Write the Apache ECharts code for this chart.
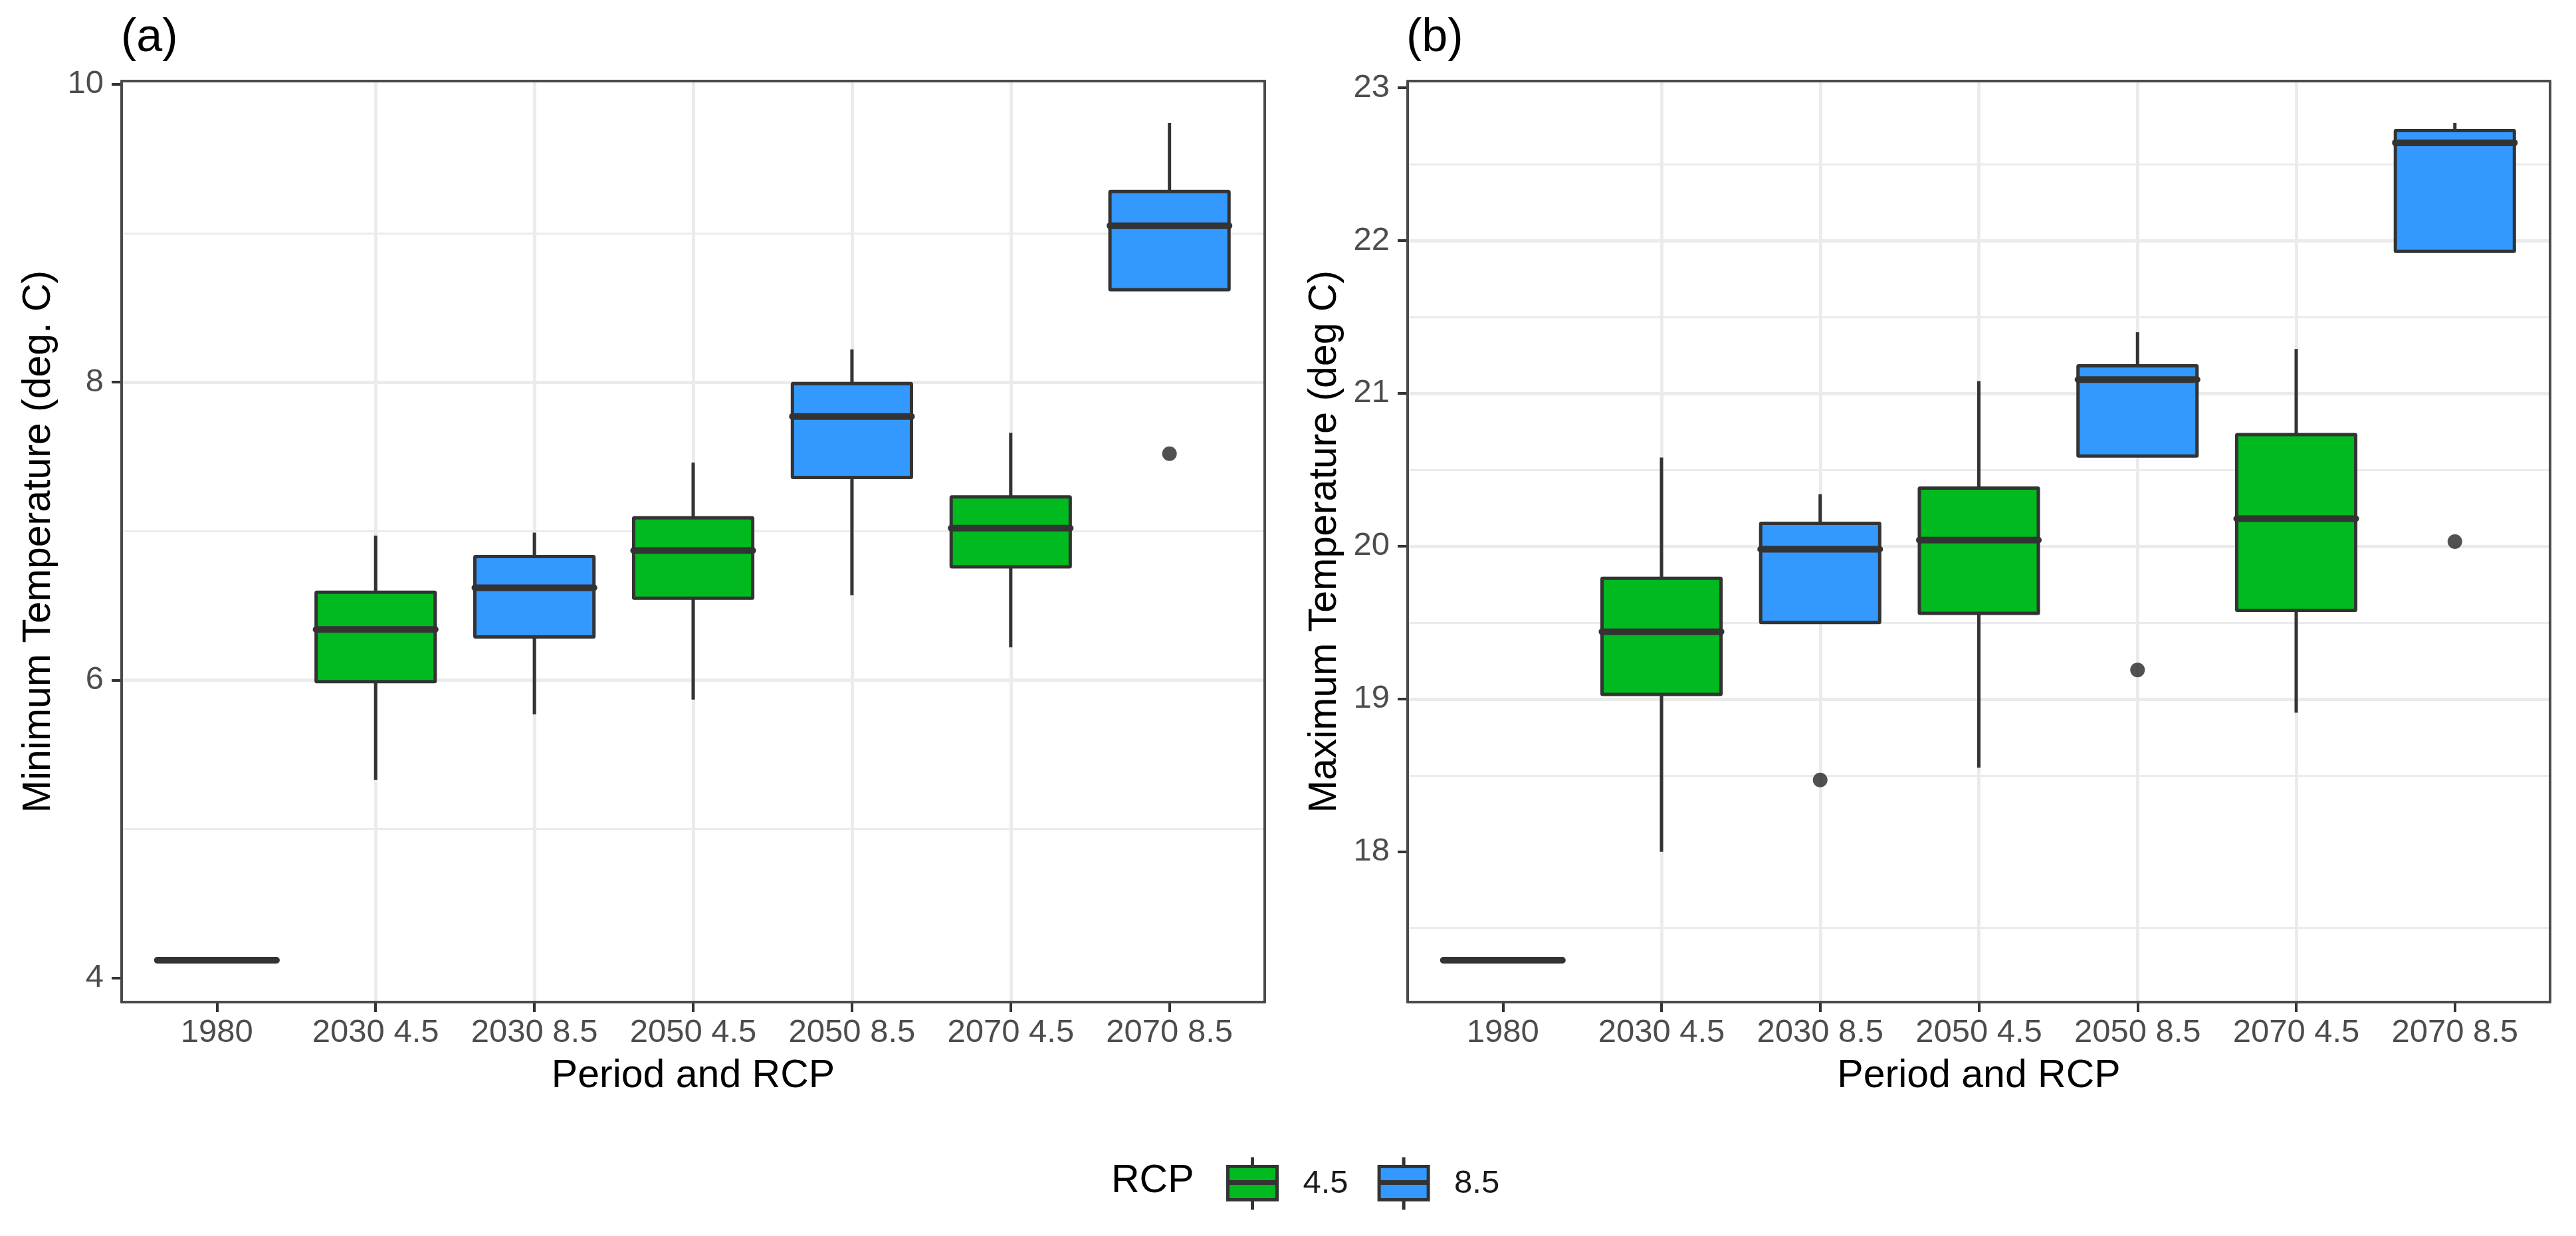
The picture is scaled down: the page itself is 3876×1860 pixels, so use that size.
<!DOCTYPE html>
<html>
<head>
<meta charset="utf-8">
<script src="https://cdn.jsdelivr.net/npm/echarts@6/dist/echarts.min.js"></script>
<style>
html,body{margin:0;padding:0;background:#fff;}
#chart{width:3876px;height:1860px;}
</style>
</head>
<body>
<div id="chart"></div>
<script>
// ---------- DATA ----------
const categories = ['1980', '2030 4.5', '2030 8.5', '2050 4.5', '2050 8.5', '2070 4.5', '2070 8.5'];
const rcpGroup   = ['1980', '4.5', '8.5', '4.5', '8.5', '4.5', '8.5'];

// (a) Minimum temperature: lower whisker, Q1, median, Q3, upper whisker
const tminLo  = [4.12, 5.33, 5.77, 5.87, 6.57, 6.22, 8.62];
const tminQ1  = [4.12, 5.99, 6.29, 6.55, 7.36, 6.76, 8.62];
const tminMed = [4.12, 6.34, 6.62, 6.87, 7.77, 7.02, 9.05];
const tminQ3  = [4.12, 6.59, 6.83, 7.09, 7.99, 7.23, 9.28];
const tminHi  = [4.12, 6.97, 6.99, 7.46, 8.22, 7.66, 9.74];
const tminOutlierCat = ['2070 8.5'];
const tminOutlierVal = [7.52];
const tminTicks = [4, 6, 8, 10];

// (b) Maximum temperature
const tmaxLo  = [17.29, 18.00, 19.50, 18.55, 20.59, 18.91, 21.93];
const tmaxQ1  = [17.29, 19.03, 19.50, 19.56, 20.59, 19.58, 21.93];
const tmaxMed = [17.29, 19.44, 19.98, 20.04, 21.09, 20.18, 22.64];
const tmaxQ3  = [17.29, 19.79, 20.15, 20.38, 21.18, 20.73, 22.72];
const tmaxHi  = [17.29, 20.58, 20.34, 21.08, 21.40, 21.29, 22.77];
const tmaxOutlierCat = ['2030 8.5', '2050 8.5', '2070 8.5'];
const tmaxOutlierVal = [18.47, 19.19, 20.03];
const tmaxTicks = [18, 19, 20, 21, 22, 23];

const legendGroups = ['4.5', '8.5'];

// ---------- STYLE ----------
const FONT = '"Liberation Sans", Arial, sans-serif';
const COLORS = { '1980': '#7f7f7f', '4.5': '#00BA1F', '8.5': '#3399FF' };
const EDGE = '#333333';
const GRIDC = '#EBEBEB';
const BOX_WIDTH = 0.75;
const FRAME = '#4a4a4a';
const LW = 5;

const chart = echarts.init(document.getElementById('chart'), null, { renderer: 'canvas', width: 3876, height: 1860 });

function renderBox(params, api) {
  const x = api.value(0);
  const lo = api.value(1), q1 = api.value(2), med = api.value(3), q3 = api.value(4), hi = api.value(5);
  const half = api.size([BOX_WIDTH, 0])[0] / 2;
  const pHi = api.coord([x, hi]), pQ3 = api.coord([x, q3]), pMed = api.coord([x, med]);
  const pQ1 = api.coord([x, q1]), pLo = api.coord([x, lo]);
  const fill = api.visual('color');
  const children = [];
  if (pHi[1] < pQ3[1]) children.push({ type: 'line', shape: { x1: pHi[0], y1: pHi[1], x2: pQ3[0], y2: pQ3[1] }, style: { stroke: EDGE, lineWidth: LW } });
  if (pLo[1] > pQ1[1]) children.push({ type: 'line', shape: { x1: pLo[0], y1: pLo[1], x2: pQ1[0], y2: pQ1[1] }, style: { stroke: EDGE, lineWidth: LW } });
  children.push({ type: 'rect', shape: { x: pQ3[0] - half, y: pQ3[1], width: 2 * half, height: pQ1[1] - pQ3[1], r: 1 },
                  style: { fill: fill, stroke: EDGE, lineWidth: LW } });
  children.push({ type: 'line', shape: { x1: pMed[0] - half, y1: pMed[1], x2: pMed[0] + half, y2: pMed[1] },
                  style: { stroke: EDGE, lineWidth: 10, lineCap: 'round' } });
  return { type: 'group', children: children };
}

function dataRange(arrs) {
  let lo = Infinity, hi = -Infinity;
  arrs.forEach(a => a.forEach(v => { lo = Math.min(lo, v); hi = Math.max(hi, v); }));
  const pad = (hi - lo) * 0.05;
  return [lo - pad, hi + pad];
}

const grids = [], xAxes = [], yAxes = [], series = [];

function frameAxis(p, pos) {
  return { gridIndex: p, type: 'value', position: pos, min: 0, max: 1, z: 10,
    axisLine: { show: true, onZero: false, lineStyle: { color: FRAME, width: 4 } },
    axisTick: { show: false }, axisLabel: { show: false }, splitLine: { show: false } };
}

function addPanel(p, rect, yName, lo, q1, med, q3, hi, outCat, outVal, ticks, majorStep) {
  grids.push(Object.assign({ show: false }, rect));
  const yr = dataRange([lo, hi, outVal]);
  const xMin = -0.6, xMax = categories.length - 1 + 0.6;
  const idxs = categories.map((c, i) => i);
  xAxes.push({
    gridIndex: p, type: 'value', position: 'bottom', min: xMin, max: xMax,
    splitNumber: categories.length, minInterval: 1, maxInterval: 1,
    name: 'Period and RCP', nameLocation: 'middle', nameGap: 82,
    nameTextStyle: { fontSize: 59, color: '#000', fontFamily: FONT },
    axisLine: { show: false, onZero: false },
    axisTick: { show: true, length: 15, customValues: idxs, lineStyle: { color: EDGE, width: 4 } },
    axisLabel: { show: true, customValues: idxs, margin: 22, fontSize: 49, color: '#4D4D4D', fontFamily: FONT,
                 formatter: v => (Number.isInteger(v) && categories[v] !== undefined) ? categories[v] : '' },
    splitLine: { show: true, showMinLine: false, showMaxLine: false, lineStyle: { color: GRIDC, width: 5 } }
  });
  xAxes.push(frameAxis(p, 'bottom'));
  xAxes.push(frameAxis(p, 'top'));
  yAxes.push({
    gridIndex: p, type: 'value', position: 'left', min: yr[0], max: yr[1],
    minInterval: majorStep, maxInterval: majorStep, splitNumber: 5,
    name: yName, nameLocation: 'middle', nameGap: 95,
    nameTextStyle: { fontSize: 59, color: '#000', fontFamily: FONT },
    axisLine: { show: false, onZero: false },
    axisTick: { show: true, length: 15, customValues: ticks, lineStyle: { color: EDGE, width: 4 } },
    axisLabel: { show: true, customValues: ticks, margin: 27, fontSize: 49, color: '#4D4D4D', fontFamily: FONT },
    splitLine: { show: true, showMinLine: false, showMaxLine: false, lineStyle: { color: GRIDC, width: 5 } },
    minorTick: { show: false, splitNumber: 2 },
    minorSplitLine: { show: true, lineStyle: { color: GRIDC, width: 3 } }
  });
  yAxes.push(frameAxis(p, 'left'));
  yAxes.push(frameAxis(p, 'right'));

  const xi = 3 * p, yi = 3 * p;
  ['1980', '4.5', '8.5'].forEach(g => {
    const data = [];
    categories.forEach((c, i) => {
      if (rcpGroup[i] === g) data.push([i, lo[i], q1[i], med[i], q3[i], hi[i]]);
    });
    series.push({
      type: 'custom', name: g, xAxisIndex: xi, yAxisIndex: yi,
      dimensions: ['x', 'lo', 'q1', 'med', 'q3', 'hi'],
      encode: { x: 0, y: [1, 2, 3, 4, 5] },
      itemStyle: { color: COLORS[g] },
      renderItem: renderBox, data: data, z: 2, silent: true
    });
  });
  series.push({
    type: 'scatter', name: 'outliers', xAxisIndex: xi, yAxisIndex: yi,
    symbol: 'circle', symbolSize: 22, itemStyle: { color: '#262626' }, z: 3, silent: true,
    data: outCat.map((c, k) => [categories.indexOf(c), outVal[k]])
  });
}

addPanel(0, { left: 183, top: 122, width: 1720, height: 1386 }, 'Minimum Temperature (deg. C)',
  tminLo, tminQ1, tminMed, tminQ3, tminHi, tminOutlierCat, tminOutlierVal, tminTicks, 2);
addPanel(1, { left: 2118, top: 122, width: 1719, height: 1386 }, 'Maximum Temperature (deg C)',
  tmaxLo, tmaxQ1, tmaxMed, tmaxQ3, tmaxHi, tmaxOutlierCat, tmaxOutlierVal, tmaxTicks, 1);

const KEY_PATH = 'path://M0,14 L74,14 L74,64 L0,64 Z M0,37 L74,37 L74,39 L0,39 Z M37,0 L37,14 M37,64 L37,79';

const option = {
  animation: false,
  backgroundColor: '#ffffff',
  textStyle: { fontFamily: FONT },
  title: [
    { text: '(a)', left: 182, top: 23, padding: 0, textStyle: { fontSize: 70, fontWeight: 'normal', color: '#000', fontFamily: FONT } },
    { text: '(b)', left: 2116, top: 23, padding: 0, textStyle: { fontSize: 70, fontWeight: 'normal', color: '#000', fontFamily: FONT } },
    { text: 'RCP', left: 1672, top: 1748, padding: 0, textStyle: { fontSize: 59, fontWeight: 'normal', color: '#000', fontFamily: FONT } }
  ],
  legend: {
    data: legendGroups.map(g => ({ name: g, icon: KEY_PATH, itemStyle: { color: COLORS[g], borderColor: EDGE, borderWidth: 5 } })),
    left: 1845, top: 1739, padding: 0, orient: 'horizontal',
    itemWidth: 74, itemHeight: 79, itemGap: 44, selectedMode: false,
    textStyle: { fontSize: 49, color: '#1a1a1a', fontFamily: FONT, padding: [0, 0, 0, 34] }
  },
  grid: grids,
  xAxis: xAxes,
  yAxis: yAxes,
  series: series
};
chart.setOption(option);
</script>
</body>
</html>
